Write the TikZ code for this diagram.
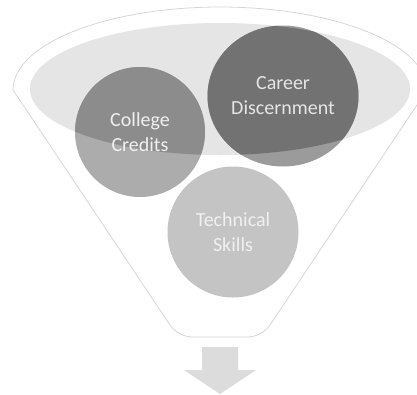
\documentclass[tikz,border=0pt]{standalone}
\usepackage{fontspec}
\setmainfont{Carlito}
\usepackage{tikz}
\usetikzlibrary{shapes}
\definecolor{funnelline}{HTML}{D6D6D6}
\definecolor{rimfill}{HTML}{E5E5E5}
\definecolor{arrowfill}{HTML}{DCDCDC}
\definecolor{careerlow}{HTML}{9B9B9B}
\definecolor{careerhigh}{HTML}{727272}
\definecolor{creditslow}{HTML}{ACACAC}
\definecolor{creditshigh}{HTML}{8C8C8C}
\definecolor{skillsfill}{HTML}{C4C4C4}
\tikzstyle{bubble} = [inner sep=0pt,align=center,text=white!88!gray,
                      font=\fontsize{20}{25}\selectfont]
\tikzstyle{rimshade} = [path picture={\fill[#1] (rimc) ellipse [x radius=190pt,y radius=66pt];}]

\begin{document}
\begin{tikzpicture}[x=1pt,y=-1pt]
    \useasboundingbox (0,0) rectangle (417,394);
    % funnel body
    \draw[funnelline,fill=white,line width=0.8pt]
        (13,90) arc[start angle=180,end angle=0,x radius=207pt,y radius=83pt]
        [rounded corners=14pt] -- (262,337) -- (178,337) [sharp corners] -- cycle;
    % rim of the funnel
    \coordinate (rimc) at (220,89);
    \fill[rimfill] (rimc) ellipse [x radius=190pt,y radius=66pt];
    % the three bubbles
    \node[bubble,circle,fill=skillsfill,minimum size=131pt]
        (skills) at (233,232) {Technical\\Skills};
    \node[bubble,circle,fill=creditslow,minimum size=130pt,rimshade=creditshigh]
        (credits) at (140,132) {College\\Credits};
    \node[bubble,ellipse,fill=careerlow,minimum width=151pt,minimum height=141pt,
          rimshade=careerhigh,text=white!80!gray]
        (career) at (283,96) {Career\\Discernment};
    % arrow below
    \fill[arrowfill] (202,347) -- (238,347) -- (238,370) -- (256,370) -- (220,394)
        -- (184,370) -- (202,370) -- cycle;
\end{tikzpicture}
\end{document}
